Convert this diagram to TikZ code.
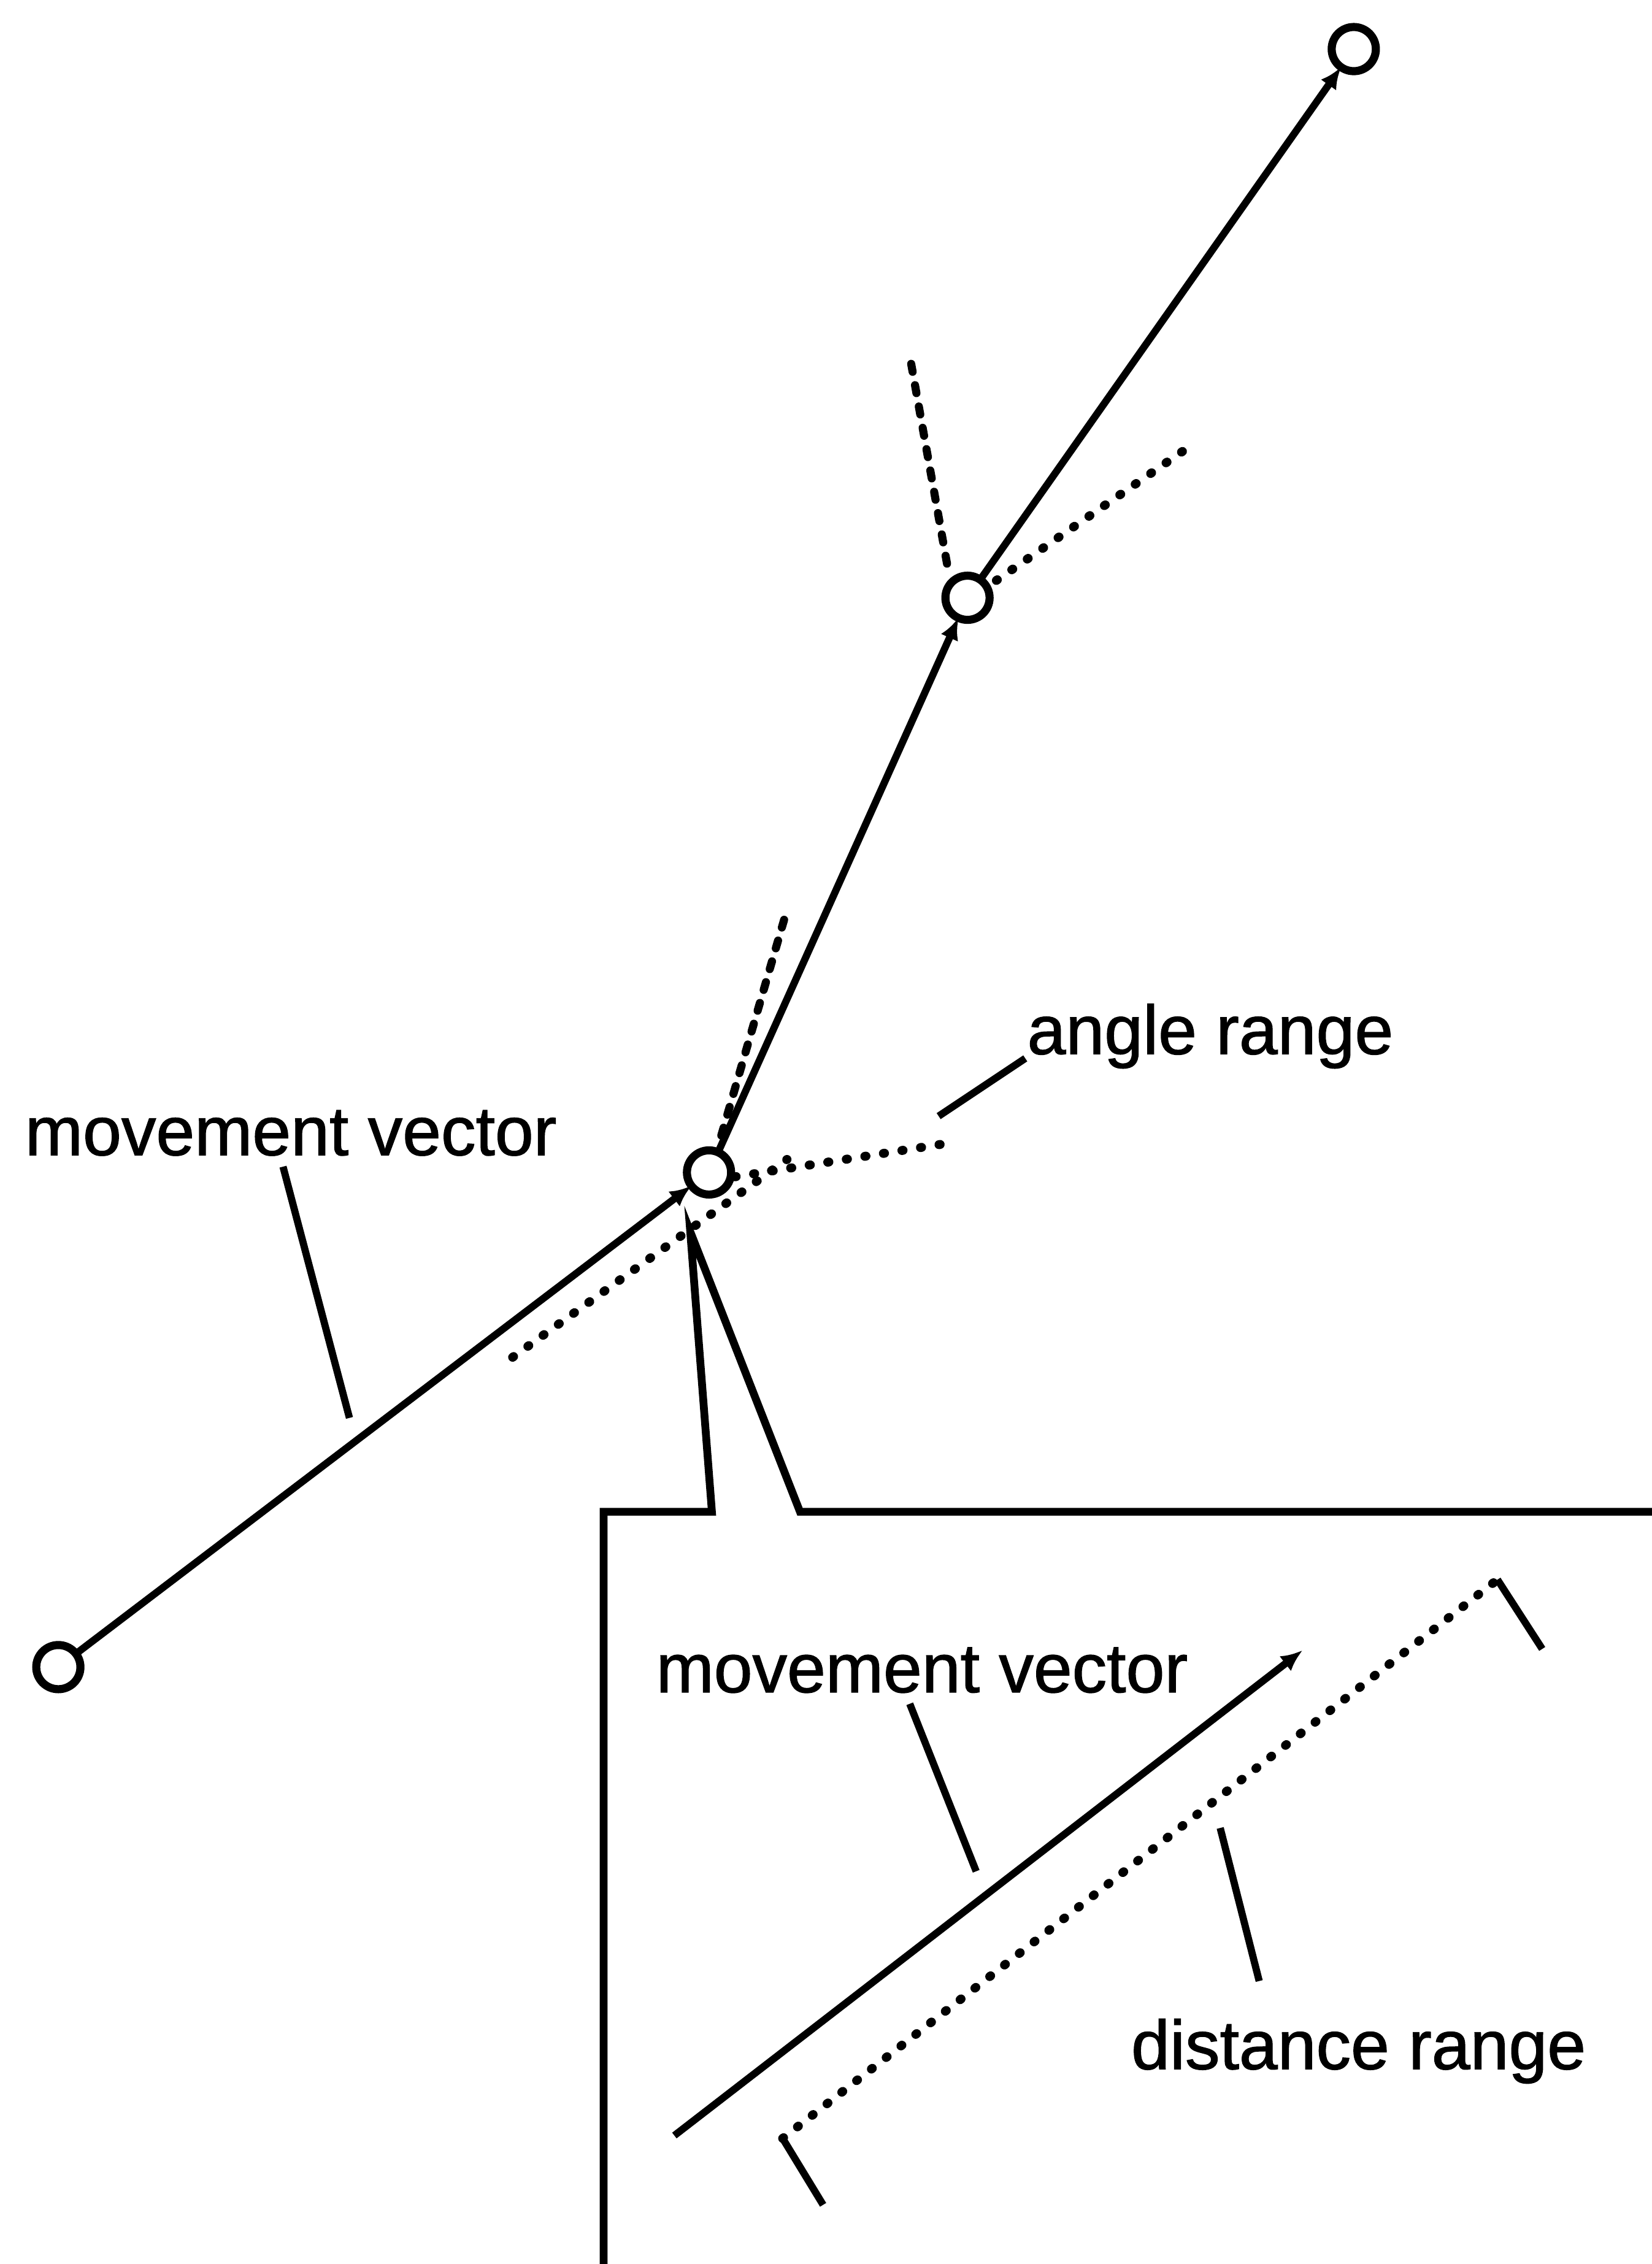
\documentclass[tikz,border=0pt]{standalone}
\usepackage{fontspec}
\setmainfont[FakeBold=1.2]{Liberation Sans}
\usetikzlibrary{arrows.meta}
\begin{document}
\begin{tikzpicture}[x=0.5pt,y=-0.5pt,
  pt/.style={circle,draw,line width=2.8pt,minimum size=15.3pt,inner sep=0pt,outer sep=0pt},
  vec/.style={line width=2.5pt,-{Latex[length=7.5pt,width=6.5pt]}},
  plain/.style={line width=2.5pt},
  boxline/.style={line width=2.7pt,line join=miter},
  dotline/.style={line width=3.1pt,line cap=round,dash pattern=on 0.4pt off 6.1pt},
  dashline/.style={line width=2.8pt,line cap=round,dash pattern=on 2.8pt off 4.7pt},
  lbl/.style={inner sep=0pt,anchor=base west,font=\fontsize{24}{28}\selectfont}]
\useasboundingbox (0,0) rectangle (1144,1568);
\fill[white] (0,0) rectangle (1144,1568);
% points
\node[pt] (A) at (40.4,1154.6) {};
\node[pt] (B) at (491,812) {};
\node[pt] (C) at (670,414) {};
\node[pt] (D) at (937.5,34) {};
% movement vectors
\draw[vec] (A) -- (B);
\draw[vec] (B) -- (C);
\draw[vec] (C) -- (D);
% angle range lines at B
\coordinate (lb1) at (355,940);
\coordinate (lb2) at (545,803);
\coordinate (hb1) at (509,815);
\coordinate (hb2) at (655,792);
\coordinate (sb1) at (543,637);
\coordinate (sb2) at (497,795);
\draw[dotline] (lb1) -- (lb2);
\draw[dotline] (hb1) -- (hb2);
\draw[dashline] (sb1) -- (sb2);
% angle range lines at C
\coordinate (sc1) at (631,252);
\coordinate (sc2) at (657,397);
\coordinate (hc1) at (690,402);
\coordinate (hc2) at (827,307);
\draw[dashline] (sc1) -- (sc2);
\draw[dotline] (hc1) -- (hc2);
% labels
\node[lbl] (mv1) at (17,800) {movement vector};
\node[lbl] (ar) at (711,730) {angle range};
\coordinate (mv1a) at (196,808);
\coordinate (mv1b) at (242,982);
\draw[plain] (mv1a) -- (mv1b);
\coordinate (ara) at (650,773);
\coordinate (arb) at (710,733);
\draw[plain] (ara) -- (arb);
% inset box
\coordinate (bx0) at (418,1575);
\coordinate (bx1) at (418,1047);
\coordinate (bx2) at (493,1047);
\coordinate (apex) at (478,853);
\coordinate (bx3) at (554,1047);
\coordinate (bx4) at (1150,1047);
\draw[boxline] (bx0) -- (bx1) -- (bx2) -- (apex) -- (bx3) -- (bx4);
% inset content
\coordinate (iv1) at (467,1479);
\coordinate (iv2) at (902,1143);
\draw[vec] (iv1) -- (iv2);
\coordinate (br1) at (570,1527);
\coordinate (br2) at (542,1481);
\coordinate (br3) at (1037,1094);
\coordinate (br4) at (1068,1142);
\draw[plain,line join=round] (br1) -- (br2);
\draw[dotline] (br2) -- (br3);
\draw[plain,line join=round] (br3) -- (br4);
\node[lbl] (mv2) at (454,1172) {movement vector};
\node[lbl] (dr) at (783,1433) {distance range};
\coordinate (mv2a) at (630,1180);
\coordinate (mv2b) at (676,1296);
\draw[plain] (mv2a) -- (mv2b);
\coordinate (dra) at (845,1266);
\coordinate (drb) at (872,1372);
\draw[plain] (dra) -- (drb);
\end{tikzpicture}
\end{document}
